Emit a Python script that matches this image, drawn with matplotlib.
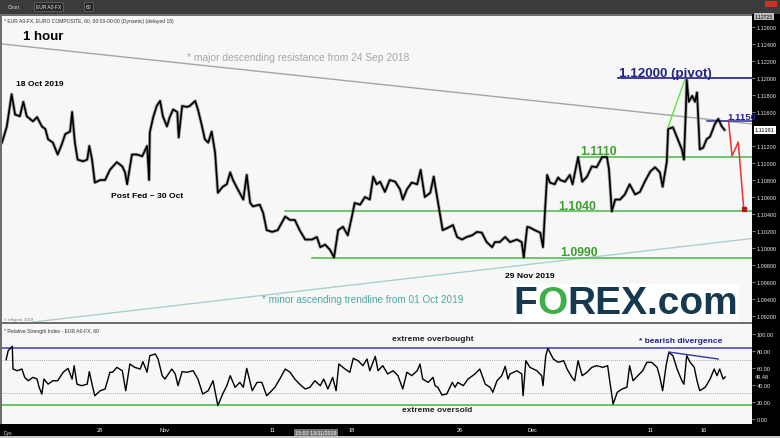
import matplotlib
matplotlib.use("Agg")
import matplotlib.pyplot as plt
from matplotlib.patches import Rectangle
from matplotlib.transforms import blended_transform_factory
from matplotlib.offsetbox import TextArea, HPacker, AnnotationBbox

plt.rcParams['font.family'] = ['Liberation Sans', 'DejaVu Sans']

# EUR/USD 1h, hourly bar index (weekends removed) and price
price_bar = [0, 7, 14, 19, 26, 31, 36, 45, 51, 58, 63, 67, 74, 81, 87, 92, 99, 102, 106, 110,
             118, 124, 127, 131, 135, 143, 150, 157, 167, 175, 179, 182, 189, 196, 204, 211, 214, 215, 220, 225,
             230, 234, 240, 244, 249, 255, 257, 262, 269,
             273, 281, 285, 291, 295, 300, 305, 310, 314, 321, 327, 332, 336, 343, 351, 356, 361, 365, 375, 380,
             385, 393, 401, 412, 419, 426, 433, 441, 451, 458, 463, 470, 477, 483, 489, 496, 503, 509, 513, 521,
             528, 535, 540,
             545, 550, 557, 564, 572, 579, 583, 589, 596, 604, 609, 615, 623, 628, 633, 637, 641, 649, 656, 662,
             669, 676, 684, 691, 698, 705, 713, 717, 724, 732, 739, 749, 756, 759, 764, 768, 775, 783, 787, 790,
             793, 797, 804,
             809, 812, 819, 826, 830, 838, 844, 851, 858, 865, 873, 880, 883, 887, 892, 899, 906, 913, 921, 928,
             935, 943, 950, 957, 961, 967, 969, 976, 983, 989, 992, 995, 996, 999, 1004, 1008, 1011, 1012, 1015, 1020,
             1025, 1030, 1037, 1042, 1047, 1051]
price_val = [1.1124, 1.1143, 1.1181, 1.1157, 1.1155, 1.1172, 1.1155, 1.1149, 1.1154, 1.1143,
             1.1140, 1.1128, 1.1124, 1.1110, 1.1122, 1.1134, 1.1137, 1.1160, 1.1124, 1.1104,
             1.1102, 1.1104, 1.1120, 1.1104, 1.1077, 1.1080, 1.1080, 1.1092, 1.1101, 1.1096,
             1.1089, 1.1075, 1.1110, 1.1110, 1.1108, 1.1120, 1.1080, 1.1136, 1.1154, 1.1167,
             1.1173, 1.1155, 1.1143, 1.1154, 1.1163, 1.1160, 1.1130, 1.1167, 1.1166,
             1.1167, 1.1173, 1.1163, 1.1143, 1.1128, 1.1124, 1.1137, 1.1112, 1.1065, 1.1072,
             1.1075, 1.1089, 1.1080, 1.1069, 1.1057, 1.1086, 1.1053, 1.1049, 1.1051, 1.1041,
             1.1021, 1.1019, 1.1021, 1.1037, 1.1033, 1.1033, 1.1021, 1.1010, 1.1010, 1.1013,
             1.1001, 1.1004, 1.0998, 1.0989, 1.1021, 1.1025, 1.1015, 1.1037, 1.1053, 1.1051,
             1.1060, 1.1057, 1.1084,
             1.1075, 1.1078, 1.1066, 1.1080, 1.1078, 1.1069, 1.1057, 1.1069, 1.1077, 1.1075,
             1.1092, 1.1060, 1.1065, 1.1084, 1.1060, 1.1041, 1.1021, 1.1024, 1.1027, 1.1013,
             1.1010, 1.1013, 1.1015, 1.1019, 1.1018, 1.1007, 1.1001, 1.1007, 1.1007, 1.1013,
             1.1007, 1.1010, 1.1007, 1.0989, 1.1025, 1.1024, 1.1021, 1.1018, 1.1001, 1.1045,
             1.1086, 1.1077, 1.1075,
             1.1083, 1.1080, 1.1078, 1.1086, 1.1075, 1.1107, 1.1078, 1.1084, 1.1096, 1.1095,
             1.1107, 1.1107, 1.1092, 1.1043, 1.1057, 1.1057, 1.1063, 1.1075, 1.1063, 1.1066,
             1.1078, 1.1090, 1.1095, 1.1089, 1.1072, 1.1101, 1.1140, 1.1142, 1.1128, 1.1116,
             1.1104, 1.1167, 1.1198, 1.1172, 1.1179, 1.1172, 1.1183, 1.1167, 1.1116, 1.1118,
             1.1128, 1.1131, 1.1146, 1.1152, 1.1143, 1.1139]

rsi_bar = [6, 9, 15, 16, 22, 29, 33, 38, 45, 51, 54, 58, 61, 67, 74, 81, 89, 96, 102, 105,
           109, 116, 124, 127, 132, 135, 143, 150, 157, 161, 167, 175, 180, 186, 193, 201, 205, 211, 215, 223,
           227, 233, 237, 247, 252, 256, 262, 269, 278, 285, 292, 300, 307, 314, 321, 327, 332, 339, 346, 351,
           356, 364, 371,
           378, 385, 390, 397, 404, 412, 419, 426, 433, 441, 448, 455, 463, 468, 474, 481, 486, 490, 499, 506,
           511, 518, 525, 531, 535, 543, 547, 554, 561, 569, 576, 583, 589, 596, 604, 608, 612, 620, 627, 630,
           634, 640, 647, 655, 659, 663, 671, 678, 688, 695, 703, 710, 714, 720, 727, 732, 736,
           739, 749, 756, 758, 762, 768, 778, 785, 787, 791, 794, 802, 809, 817, 822, 829, 833, 838, 844, 851,
           858, 865, 874, 881, 884, 889, 895, 902, 909, 913, 918, 925, 932, 938, 945, 953, 957, 961, 966, 970,
           976, 982, 989, 992, 996, 1001, 1007, 1011, 1015, 1023, 1030, 1036, 1040, 1044, 1049, 1052]
rsi_val = [69.8, 80.4, 85.5, 58.8, 56.8, 58.8, 49, 45, 49, 47, 37.3, 29.4, 47, 41, 45, 45, 55, 59.6, 47, 62.7,
           41, 39.2, 41, 55.7, 37.3, 27.4, 33.3, 35.3, 55, 55, 60.8, 56.8, 33.3, 64.7, 60.8, 58.8, 67.5, 55, 74.5, 76.5,
           70.6, 51, 47, 58.8, 53, 39.2, 55.7, 55, 56.8, 47, 29.4, 33.3, 45, 15.7, 29.4, 39.2, 51, 37.3, 43.1, 37.3,
           59.6, 33.3, 43.1,
           43.1, 27.4, 31.4, 37.3, 47, 58.8, 55, 47, 41, 35.3, 37.3, 45, 39.2, 47, 35.3, 49, 33.3, 64.7, 58.8, 55,
           71.4, 68.6, 62.7, 70.6, 56.8, 73.7, 56.8, 62.7, 53, 56.8, 51, 35.3, 55, 51, 56.8, 64.7, 47, 43.1, 49, 39.2,
           37.3, 28.2, 29.4, 43.1, 37.3, 43.1, 39.2, 47, 53, 58.8, 41, 37.3, 31.4, 45, 51, 62, 47,
           53, 56.8, 53, 27.4, 68.6, 60.8, 56.8, 51, 39.2, 74.5, 83.2, 70.6, 66.7, 68.6, 58.8, 49, 45, 68.6, 51, 55,
           60.8, 62.7, 60.8, 62.7, 45, 17.6, 31.4, 35.3, 37.3, 62.7, 45, 51, 56.8, 66.7, 66.7, 60.8, 49, 33.3, 62.7, 78.4,
           74.5, 58.8, 45, 41, 74.5, 66.7, 60.8, 45, 33.3, 37.3, 47, 58.8, 51, 58.8, 47, 49.5]

date_ticks = [142, 237, 394, 509, 666, 771, 943, 1021]
date_labels = ['28', 'Nov', '11', '18', '26', 'Dec', '11', '16']
price_ticks = [1.092, 1.094, 1.096, 1.098, 1.100, 1.102, 1.104, 1.106, 1.108,
               1.110, 1.112, 1.116, 1.118, 1.120, 1.122, 1.124, 1.126]

# trend lines / levels
resist_bar, resist_val = [0, 1091], [1.1240, 1.11459]
support_bar, support_val = [45, 1091], [1.09129, 1.10112]
levels = {'1.1110': (838, 1.11067), '1.1040': (412, 1.10432), '1.0990': (451, 1.09886)}
pivot_bar, pivot_val = 896, 1.1200
res2_bar, res2_val = 1025, 1.11498
div_price_bar, div_price_val = [969, 993], [1.11424, 1.11976]
path_bar, path_val = [1057, 1062, 1071, 1079], [1.11482, 1.11082, 1.11247, 1.10459]
div_rsi_bar, div_rsi_val = [970, 1042], [78.8, 70.6]
last_price, last_rsi = 1.11391, 49.48

W, H = 780, 439
fig = plt.figure(figsize=(7.8, 4.39), dpi=100, facecolor='#6e6e6e')


def fx(x):
    return x / W


def fy(y):
    return 1 - y / H


ax = fig.add_axes([fx(2), fy(323), 750 / W, 306 / H], facecolor='#f7f7f7')
ax2 = fig.add_axes([fx(2), fy(425), 750 / W, 100 / H], facecolor='#f7f7f7')

# strips
fig.add_artist(Rectangle((0, fy(15)), 1, 15 / H, transform=fig.transFigure, fc='#3b3b3b', ec='none', zorder=-1))
fig.add_artist(Rectangle((fx(752), 0), 28 / W, fy(15), transform=fig.transFigure, fc='black', ec='none', zorder=-1))
fig.add_artist(Rectangle((0, fy(437)), fx(752), 12 / H, transform=fig.transFigure, fc='black', ec='none', zorder=-1))
fig.add_artist(Rectangle((0, 0), 1, 2 / H, transform=fig.transFigure, fc='#c8c8c8', ec='none', zorder=-1))

# toolbar
fig.text(fx(8), fy(7.5), 'Chart', fontsize=3.5, color='#cccccc', va='center')
fig.text(fx(36), fy(7.5), 'EUR A0-FX', fontsize=3.5, color='#dddddd', va='center',
         bbox=dict(boxstyle='square,pad=0.4', fc='#2a2a2a', ec='#777777', lw=0.4))
fig.text(fx(86), fy(7.5), '60', fontsize=3.5, color='#dddddd', va='center',
         bbox=dict(boxstyle='square,pad=0.4', fc='#2a2a2a', ec='#777777', lw=0.4))
fig.add_artist(Rectangle((fx(765), fy(8)), 12 / W, 6 / H, transform=fig.transFigure, fc='#cc3322', ec='none'))

# ---- price panel
ax.plot(price_bar, price_val, color='#444444', lw=2.4, alpha=0.45, zorder=3)
ax.plot(price_bar, price_val, color='black', lw=1.2, zorder=4)
ax.plot(resist_bar, resist_val, color='#a5a5a5', lw=1.0, zorder=2)
ax.plot(support_bar, support_val, color='#a9cfcf', lw=1.0, zorder=2)
for name, (b, v) in levels.items():
    ax.plot([b, 1091], [v, v], color='#47b947', lw=1.1, zorder=2)
ax.plot([pivot_bar, 1091], [pivot_val] * 2, color='#2e2e96', lw=1.3, zorder=2)
ax.plot([res2_bar, 1091], [res2_val] * 2, color='#2e2e96', lw=1.1, zorder=2)
ax.plot(div_price_bar, div_price_val, color='#5ee63a', lw=1.0, zorder=5)
ax.plot(path_bar, path_val, color='#ee3030', lw=1.1, zorder=5)
ax.plot(path_bar[-1:], path_val[-1:], 's', color='#b01818', ms=3, zorder=6)

ax.set_xlim(0, 1091)
ax.set_ylim(1.0913, 1.12729)
ax.set_xticks([])
ax.yaxis.tick_right()
ax.set_yticks(price_ticks)
ax.yaxis.set_major_formatter(plt.FormatStrFormatter('%.5f'))
ax.tick_params(axis='y', labelsize=4, labelcolor='#e6e6e6', color='#bbbbbb', length=2, width=0.5, pad=1.5)
for s in ax.spines.values():
    s.set_visible(False)

yb = blended_transform_factory(ax.transAxes, ax.transData)
ax.text(1.004, last_price, '%.5f' % last_price, transform=yb, fontsize=4, color='black', va='center',
        zorder=10, bbox=dict(boxstyle='square,pad=0.25', fc='white', ec='none'))
ax.text(1.004, 1.12723, '1.12723', transform=yb, fontsize=3.6, color='black', va='center',
        zorder=10, bbox=dict(boxstyle='square,pad=0.2', fc='#bbbbbb', ec='none'))

# annotations
fig.text(fx(4), fy(22), '* EUR A0-FX, EURO COMPOSITE, 60, 00:00-00:00 (Dynamic) (delayed 15)',
         fontsize=3.6, color='#333333', va='center')
fig.text(fx(23), fy(37), '1 hour', fontsize=9.5, fontweight='bold', va='center')
fig.text(fx(187), fy(58), '* major descending resistance from 24 Sep 2018', fontsize=7.4, color='#a6a6a6', va='center')
fig.text(fx(16), fy(84), '18 Oct 2019', fontsize=6.1, fontweight='bold', va='center')
fig.text(fx(111), fy(197), 'Post Fed ~ 30 Oct', fontsize=6.1, fontweight='bold', va='center')
fig.text(fx(505), fy(277), '29 Nov 2019', fontsize=6.1, fontweight='bold', va='center')
fig.text(fx(262), fy(300), '* minor ascending trendline from 01 Oct 2019', fontsize=7.2, color='#4fa8a3', va='center')
fig.text(fx(619), fy(74), '1.12000 (pivot)', fontsize=9.6, fontweight='bold', color='#23238a', va='center')
fig.text(fx(727), fy(117), '1.1150', fontsize=6.8, fontweight='bold', color='#23238a', va='center')
green_pos = {'1.1110': (580, 152), '1.1040': (558, 207), '1.0990': (560, 253)}
for name, (px, py) in green_pos.items():
    fig.text(fx(px), fy(py), name, fontsize=8.8, fontweight='bold', color='#3c9e2c', va='center')
fig.text(fx(4), fy(320), '\u00a9 eSignal, 2019', fontsize=3, color='#777777', va='center')

# logo
props = dict(fontsize=28, fontweight='bold', color='#16394f')
parts = [TextArea('F', textprops=props),
         TextArea('O', textprops=dict(props, color='#3dae49')),
         TextArea('REX.com', textprops=props)]
logo = HPacker(children=parts, align='baseline', pad=0, sep=0)
ab = AnnotationBbox(logo, (fx(626), fy(304)), xycoords='figure fraction', frameon=True,
                    bboxprops=dict(fc='white', ec='none'), pad=0.05, zorder=8)
fig.add_artist(ab)

# ---- RSI panel
ax2.plot(rsi_bar, rsi_val, color='black', lw=1.0, zorder=4)
ax2.axhline(83.5, color='#4a4ac4', lw=1.2)
ax2.axhline(16.5, color='#4cbf4c', lw=1.2)
ax2.axhline(70, color='#9a9a9a', lw=0.6, ls=(0, (1, 1.5)))
ax2.axhline(30, color='#9a9a9a', lw=0.6, ls=(0, (1, 1.5)))
ax2.plot(div_rsi_bar, div_rsi_val, color='#35359a', lw=1.0, zorder=5)
ax2.set_xlim(0, 1091)
ax2.set_ylim(-5.9, 111.8)
ax2.yaxis.tick_right()
ax2.set_yticks([0, 20, 40, 60, 80, 100])
ax2.yaxis.set_major_formatter(plt.FormatStrFormatter('%.2f'))
ax2.tick_params(axis='y', labelsize=4, labelcolor='#e6e6e6', color='#bbbbbb', length=2, width=0.5, pad=1.5)
ax2.set_xticks(date_ticks)
ax2.set_xticklabels(date_labels)
ax2.tick_params(axis='x', labelsize=4, labelcolor='white', length=0, pad=2.5)
for s in ax2.spines.values():
    s.set_visible(False)
yb2 = blended_transform_factory(ax2.transAxes, ax2.transData)
ax2.text(1.004, last_rsi, '%.2f' % last_rsi, transform=yb2, fontsize=4, color='#e6e6e6', va='center')
xb2 = blended_transform_factory(ax2.transData, ax2.transAxes)
ax2.text(457, -0.06, '15:00 13/11/2019', transform=xb2, fontsize=3.8, color='white', ha='center', va='top',
         bbox=dict(boxstyle='square,pad=0.2', fc='#707070', ec='none'))
fig.text(fx(4), fy(436), 'Dys', fontsize=3.6, color='#dddddd', va='bottom')

fig.text(fx(4), fy(331), '* Relative Strength Index - EUR A0-FX, 60', fontsize=3.6, color='#333333', va='center')
fig.text(fx(392), fy(340), 'extreme overbought', fontsize=6, fontweight='bold', color='#222222', va='center')
fig.text(fx(402), fy(411), 'extreme oversold', fontsize=6, fontweight='bold', color='#222222', va='center')
fig.text(fx(639), fy(342), '* bearish divergence', fontsize=6, fontweight='bold', color='#23238a', va='center')

fig.savefig('out.png', dpi=100, facecolor=fig.get_facecolor())
